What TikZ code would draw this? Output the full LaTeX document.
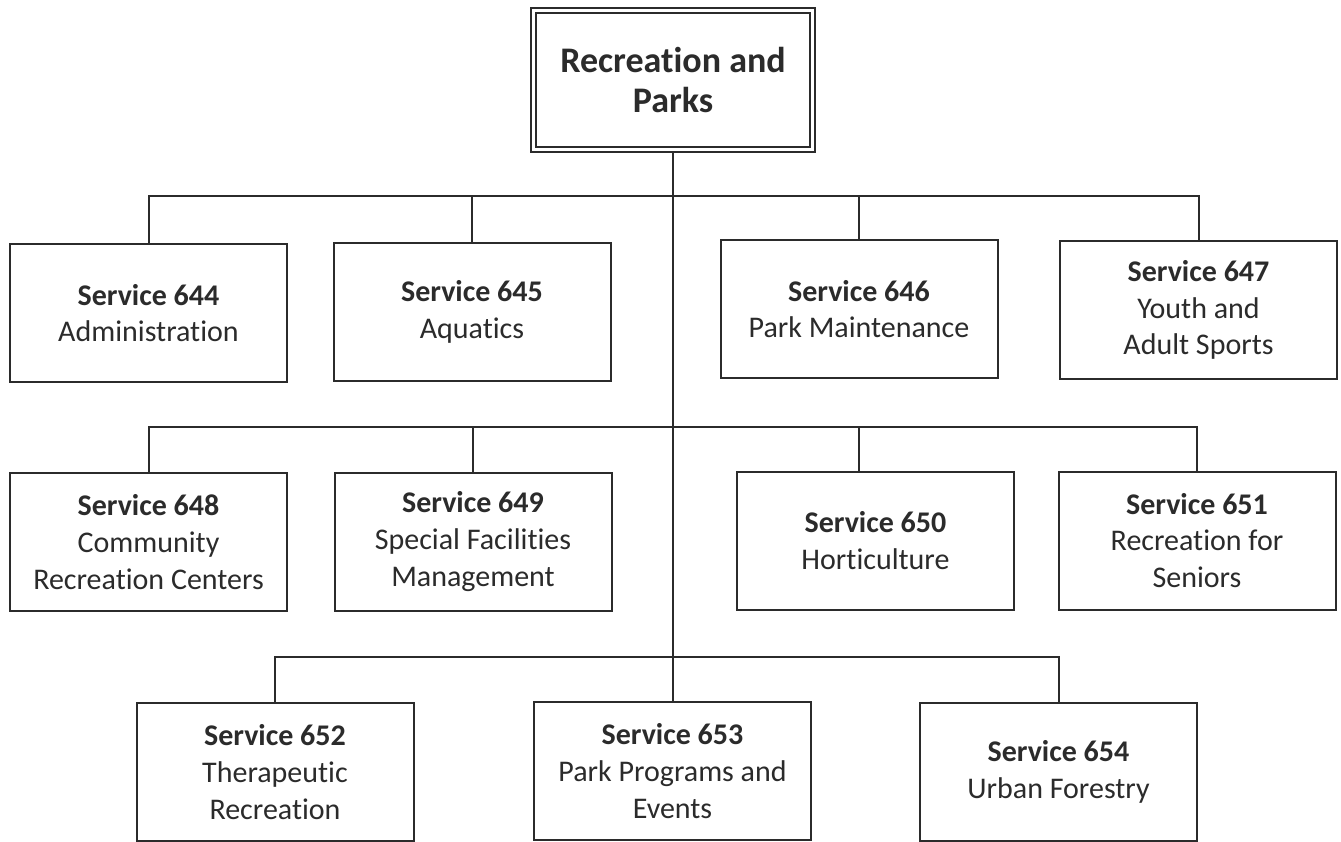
\documentclass[tikz,border=0pt]{standalone}
\usepackage{fontspec}
\setmainfont{Carlito}[RawFeature={-liga;-clig;-calt;-dlig;-rlig}]
\definecolor{inkgray}{HTML}{2B2B2B}
\tikzset{
  svcbox/.style={draw=inkgray, line width=2pt, text=inkgray, align=center,
    minimum width=277pt, minimum height=138pt, inner sep=0pt,
    font=\fontsize{30}{36.6}\selectfont},
  headbox/.style={draw=inkgray, line width=2pt, double, double distance=3pt,
    text=inkgray, align=center, minimum width=279pt, minimum height=139pt,
    outer sep=3.5pt, font=\bfseries\fontsize{36}{40}\selectfont},
  link/.style={draw=inkgray, line width=2pt}
}
\begin{document}
\begin{tikzpicture}[x=1pt, y=-1pt]
\useasboundingbox [fill=white] (0,0) rectangle (1341,842);

\node [headbox] (top) at (673,80) {Recreation and\\Parks};

% first row
\node [svcbox] (s644) at (148.5,313) {\textbf{Service 644}\\Administration};
\node [svcbox] (s645) at (472,312) {\textbf{Service 645}\\Aquatics};
\node [svcbox] (s646) at (859,309) {\textbf{Service 646}\\Park Maintenance};
\node [svcbox] (s647) at (1198.5,310) {\textbf{Service 647}\\Youth and\\Adult Sports};

% second row
\node [svcbox] (s648) at (148.5,542) {\textbf{Service 648}\\Community\\Recreation Centers};
\node [svcbox] (s649) at (473,541.5) {\textbf{Service 649}\\Special Facilities\\Management};
\node [svcbox] (s650) at (875.5,540.5) {\textbf{Service 650}\\Horticulture};
\node [svcbox] (s651) at (1197,540.5) {\textbf{Service 651}\\Recreation for\\Seniors};

% third row
\node [svcbox] (s652) at (275,772) {\textbf{Service 652}\\Therapeutic\\Recreation};
\node [svcbox] (s653) at (672.5,771) {\textbf{Service 653}\\Park Programs and\\Events};
\node [svcbox] (s654) at (1058.5,772) {\textbf{Service 654}\\Urban Forestry};

\coordinate (bus1) at (0,196);
\coordinate (bus2) at (0,427);
\coordinate (bus3) at (0,657);

% trunk
\draw [link] (top.south) -- (top.south |- s653.north);

% buses and drops
\draw [link] (s644.north) -- (s644.north |- bus1) -- (s647.north |- bus1) -- (s647.north);
\draw [link] (s645.north) -- (s645.north |- bus1);
\draw [link] (s646.north) -- (s646.north |- bus1);

\draw [link] (s648.north) -- (s648.north |- bus2) -- (s651.north |- bus2) -- (s651.north);
\draw [link] (s649.north) -- (s649.north |- bus2);
\draw [link] (s646.south |- s650.north) -- (s646.south |- bus2);

\draw [link] (s652.north) -- (s652.north |- bus3) -- (s654.north |- bus3) -- (s654.north);
\end{tikzpicture}
\end{document}
